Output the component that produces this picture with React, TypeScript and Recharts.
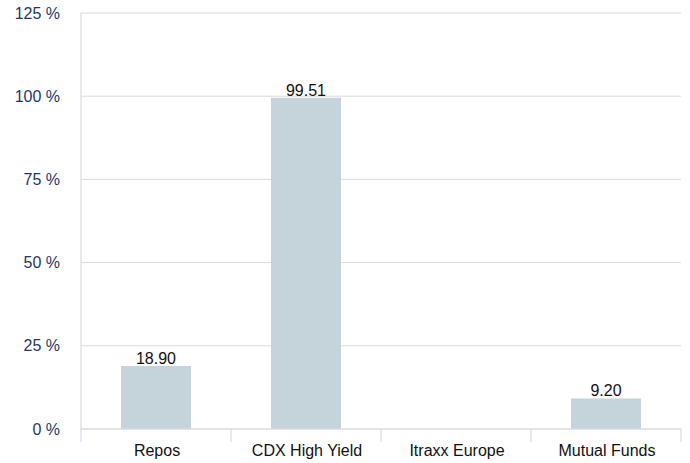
import React from 'react';
import { BarChart, Bar, XAxis, YAxis, CartesianGrid, LabelList } from 'recharts';

const categories = ['Repos', 'CDX High Yield', 'Itraxx Europe', 'Mutual Funds'];
const values: (number | null)[] = [18.9, 99.51, null, 9.2];
const yTicks = [0, 25, 50, 75, 100, 125];

const data = categories.map((name, i) => ({ name, value: values[i] }));

const BAND = 150;

const CategoryTick = (props: any) => {
  const { x, y, payload, index } = props;
  const last = index === categories.length - 1;
  return (
    <g>
      <line x1={x - BAND / 2} y1={y} x2={x - BAND / 2} y2={y + 13} stroke="#c9d5e0" />
      {last && <line x1={x + BAND / 2} y1={y} x2={x + BAND / 2} y2={y + 13} stroke="#c9d5e0" />}
      <text x={x + 1} y={y + 27} textAnchor="middle" fill="#111" fontSize={16}>
        {payload.value}
      </text>
    </g>
  );
};

const App: React.FC = () => {
  return (
    <div style={{ position: 'absolute', left: 0, top: 0, fontFamily: 'Arial, "Liberation Sans", sans-serif' }}>
      <BarChart
        width={690}
        height={463}
        data={data}
        margin={{ top: 13, right: 9, bottom: 0, left: 0 }}
      >
        <CartesianGrid vertical={false} stroke="#dadada" />
        <XAxis
          dataKey="name"
          height={34}
          axisLine={{ stroke: '#d8dde3' }}
          tickLine={false}
          tickSize={0}
          tickMargin={0}
          interval={0}
          tick={<CategoryTick />}
        />
        <YAxis
          width={81}
          domain={[0, 125]}
          ticks={yTicks}
          interval={0}
          tickFormatter={(v: number) => `${v} %`}
          axisLine={{ stroke: '#d5d5d5' }}
          tickLine={false}
          tickSize={0}
          tickMargin={21}
          tick={{ fill: '#1f3864', fontSize: 16 }}
        />
        <Bar dataKey="value" fill="#c5d3db" barSize={70} isAnimationActive={false}>
          <LabelList
            dataKey="value"
            position="top"
            offset={2}
            fill="#111"
            fontSize={16}
            formatter={(v: any) => (v == null ? '' : Number(v).toFixed(2))}
          />
        </Bar>
      </BarChart>
    </div>
  );
};

export default App;
